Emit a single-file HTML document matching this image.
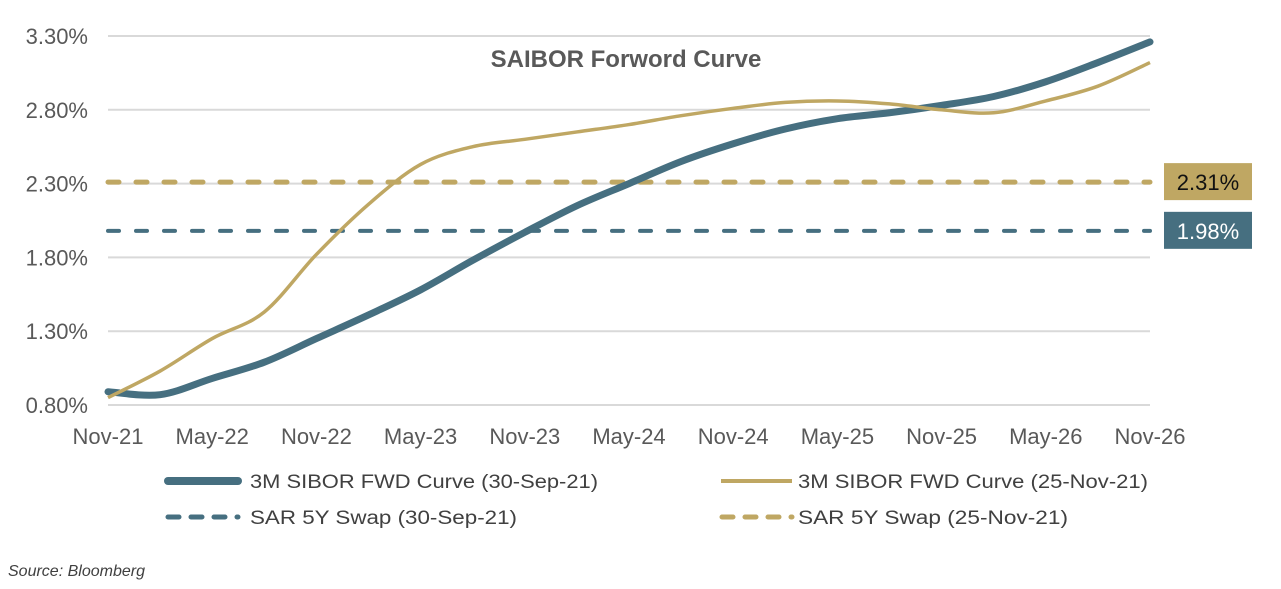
<!DOCTYPE html>
<html><head><meta charset="utf-8"><style>
html,body{margin:0;padding:0;background:#fff;}
svg{display:block;font-family:"Liberation Sans",Arial,sans-serif;}
</style></head><body>
<svg id="chart" width="1281" height="589" viewBox="0 0 1281 589">
<g id="grid"></g>
<g id="yticks"></g>
<g id="xticks"></g>
<text x="626" y="67" text-anchor="middle" font-size="24" font-weight="bold" fill="#595959">SAIBOR Forword Curve</text>
<g id="series"></g>
<g id="labels"></g>
<g>
  <g>
    <line x1="168" y1="481" x2="238" y2="481" stroke="#466f80" stroke-width="8" stroke-linecap="round"/>
    <text x="250" y="488" font-size="19" fill="#404040" textLength="348" lengthAdjust="spacingAndGlyphs">3M SIBOR FWD Curve (30-Sep-21)</text>
  </g>
  <g>
    <line x1="721" y1="481" x2="792" y2="481" stroke="#bfa763" stroke-width="4"/>
    <text x="798" y="488" font-size="19" fill="#404040" textLength="350" lengthAdjust="spacingAndGlyphs">3M SIBOR FWD Curve (25-Nov-21)</text>
  </g>
  <g>
    <line x1="168" y1="517" x2="238" y2="517" stroke="#466f80" stroke-width="5" stroke-dasharray="11 12" stroke-linecap="round"/>
    <text x="250" y="524" font-size="19" fill="#404040" textLength="267" lengthAdjust="spacingAndGlyphs">SAR 5Y  Swap (30-Sep-21)</text>
  </g>
  <g>
    <line x1="722" y1="517" x2="792" y2="517" stroke="#bfa763" stroke-width="5" stroke-dasharray="11 12" stroke-linecap="round"/>
    <text x="798" y="524" font-size="19" fill="#404040" textLength="270" lengthAdjust="spacingAndGlyphs">SAR 5Y  Swap (25-Nov-21)</text>
  </g>
</g>
<text x="8" y="576" font-size="16" font-style="italic" fill="#404040">Source: Bloomberg</text>
</svg>
<script>
const xLabels=["Nov-21","May-22","Nov-22","May-23","Nov-23","May-24","Nov-24","May-25","Nov-25","May-26","Nov-26"];
const yTicks=[0.8,1.3,1.8,2.3,2.8,3.3];
const sibor30Sep=[0.89,0.87,0.98,1.09,1.25,1.41,1.58,1.78,1.97,2.15,2.30,2.45,2.57,2.67,2.74,2.78,2.83,2.89,2.99,3.12,3.26];
const sibor25Nov=[0.85,1.03,1.25,1.43,1.82,2.16,2.43,2.55,2.60,2.65,2.70,2.76,2.81,2.85,2.86,2.84,2.80,2.78,2.86,2.96,3.12];
const swap30Sep=1.98;
const swap25Nov=2.31;
const NS="http://www.w3.org/2000/svg";
const X0=108,X1=1150,Y0=405,PXPER=147.6;
function xq(i){return X0+(X1-X0)*i/20;}
function xl(i){return X0+(X1-X0)*i/10;}
function y(v){return Y0-(v-0.8)*PXPER;}
function mk(tag,attrs,parent){const e=document.createElementNS(NS,tag);for(const k in attrs)e.setAttribute(k,attrs[k]);parent.appendChild(e);return e;}
const grid=document.getElementById('grid'),yt=document.getElementById('yticks'),xt=document.getElementById('xticks');
yTicks.forEach(v=>{
  const l=mk('line',{x1:X0,x2:X1,y1:y(v),y2:y(v),stroke:'#d9d9d9','stroke-width':2},grid);
  
  
  const t=mk('text',{x:88,y:y(v)+8,'text-anchor':'end','font-size':22,fill:'#595959'},yt);
  t.textContent=v.toFixed(2)+'%';
  
  
});
xLabels.forEach((s,i)=>{
  let cx=xl(i);
  const t=mk('text',{x:cx,y:444,'text-anchor':'middle','font-size':22,fill:'#595959'},xt);
  t.textContent=s;
  
  
});
function smooth(vals){
  const p=vals.map((v,i)=>[xq(i),y(v)]);
  let d='M'+p[0][0]+','+p[0][1];
  for(let i=0;i<p.length-1;i++){
    const a=p[Math.max(0,i-1)],b=p[i],c=p[i+1],e=p[Math.min(p.length-1,i+2)];
    const c1=[b[0]+(c[0]-a[0])/6,b[1]+(c[1]-a[1])/6],c2=[c[0]-(e[0]-b[0])/6,c[1]-(e[1]-b[1])/6];
    d+=' C'+c1[0]+','+c1[1]+' '+c2[0]+','+c2[1]+' '+c[0]+','+c[1];
  }
  return d;
}
const sg=document.getElementById('series');
const s1=mk('line',{x1:X0,x2:X1,y1:y(swap25Nov),y2:y(swap25Nov),stroke:'#bfa763','stroke-width':5,'stroke-dasharray':'11 17','stroke-linecap':'round'},sg);


const s2=mk('line',{x1:X0,x2:X1,y1:y(swap30Sep),y2:y(swap30Sep),stroke:'#466f80','stroke-width':4,'stroke-dasharray':'11 17','stroke-linecap':'round'},sg);


const p1=mk('path',{d:smooth(sibor30Sep),fill:'none',stroke:'#466f80','stroke-width':7,'stroke-linecap':'round'},sg);


const p2=mk('path',{d:smooth(sibor25Nov),fill:'none',stroke:'#bfa763','stroke-width':3.5},sg);


const lg=document.getElementById('labels');
[[swap25Nov,'#bfa763','#111'],[swap30Sep,'#466f80','#fff']].forEach(([v,bg,fg])=>{
  const r=mk('rect',{x:1164,y:y(v)-19,width:88,height:37,fill:bg},lg);
  
  
  const t=mk('text',{x:1208,y:y(v)+8,'text-anchor':'middle','font-size':22,fill:fg},lg);
  t.textContent=v.toFixed(2)+'%';
  
  
});
</script>
</body></html>
